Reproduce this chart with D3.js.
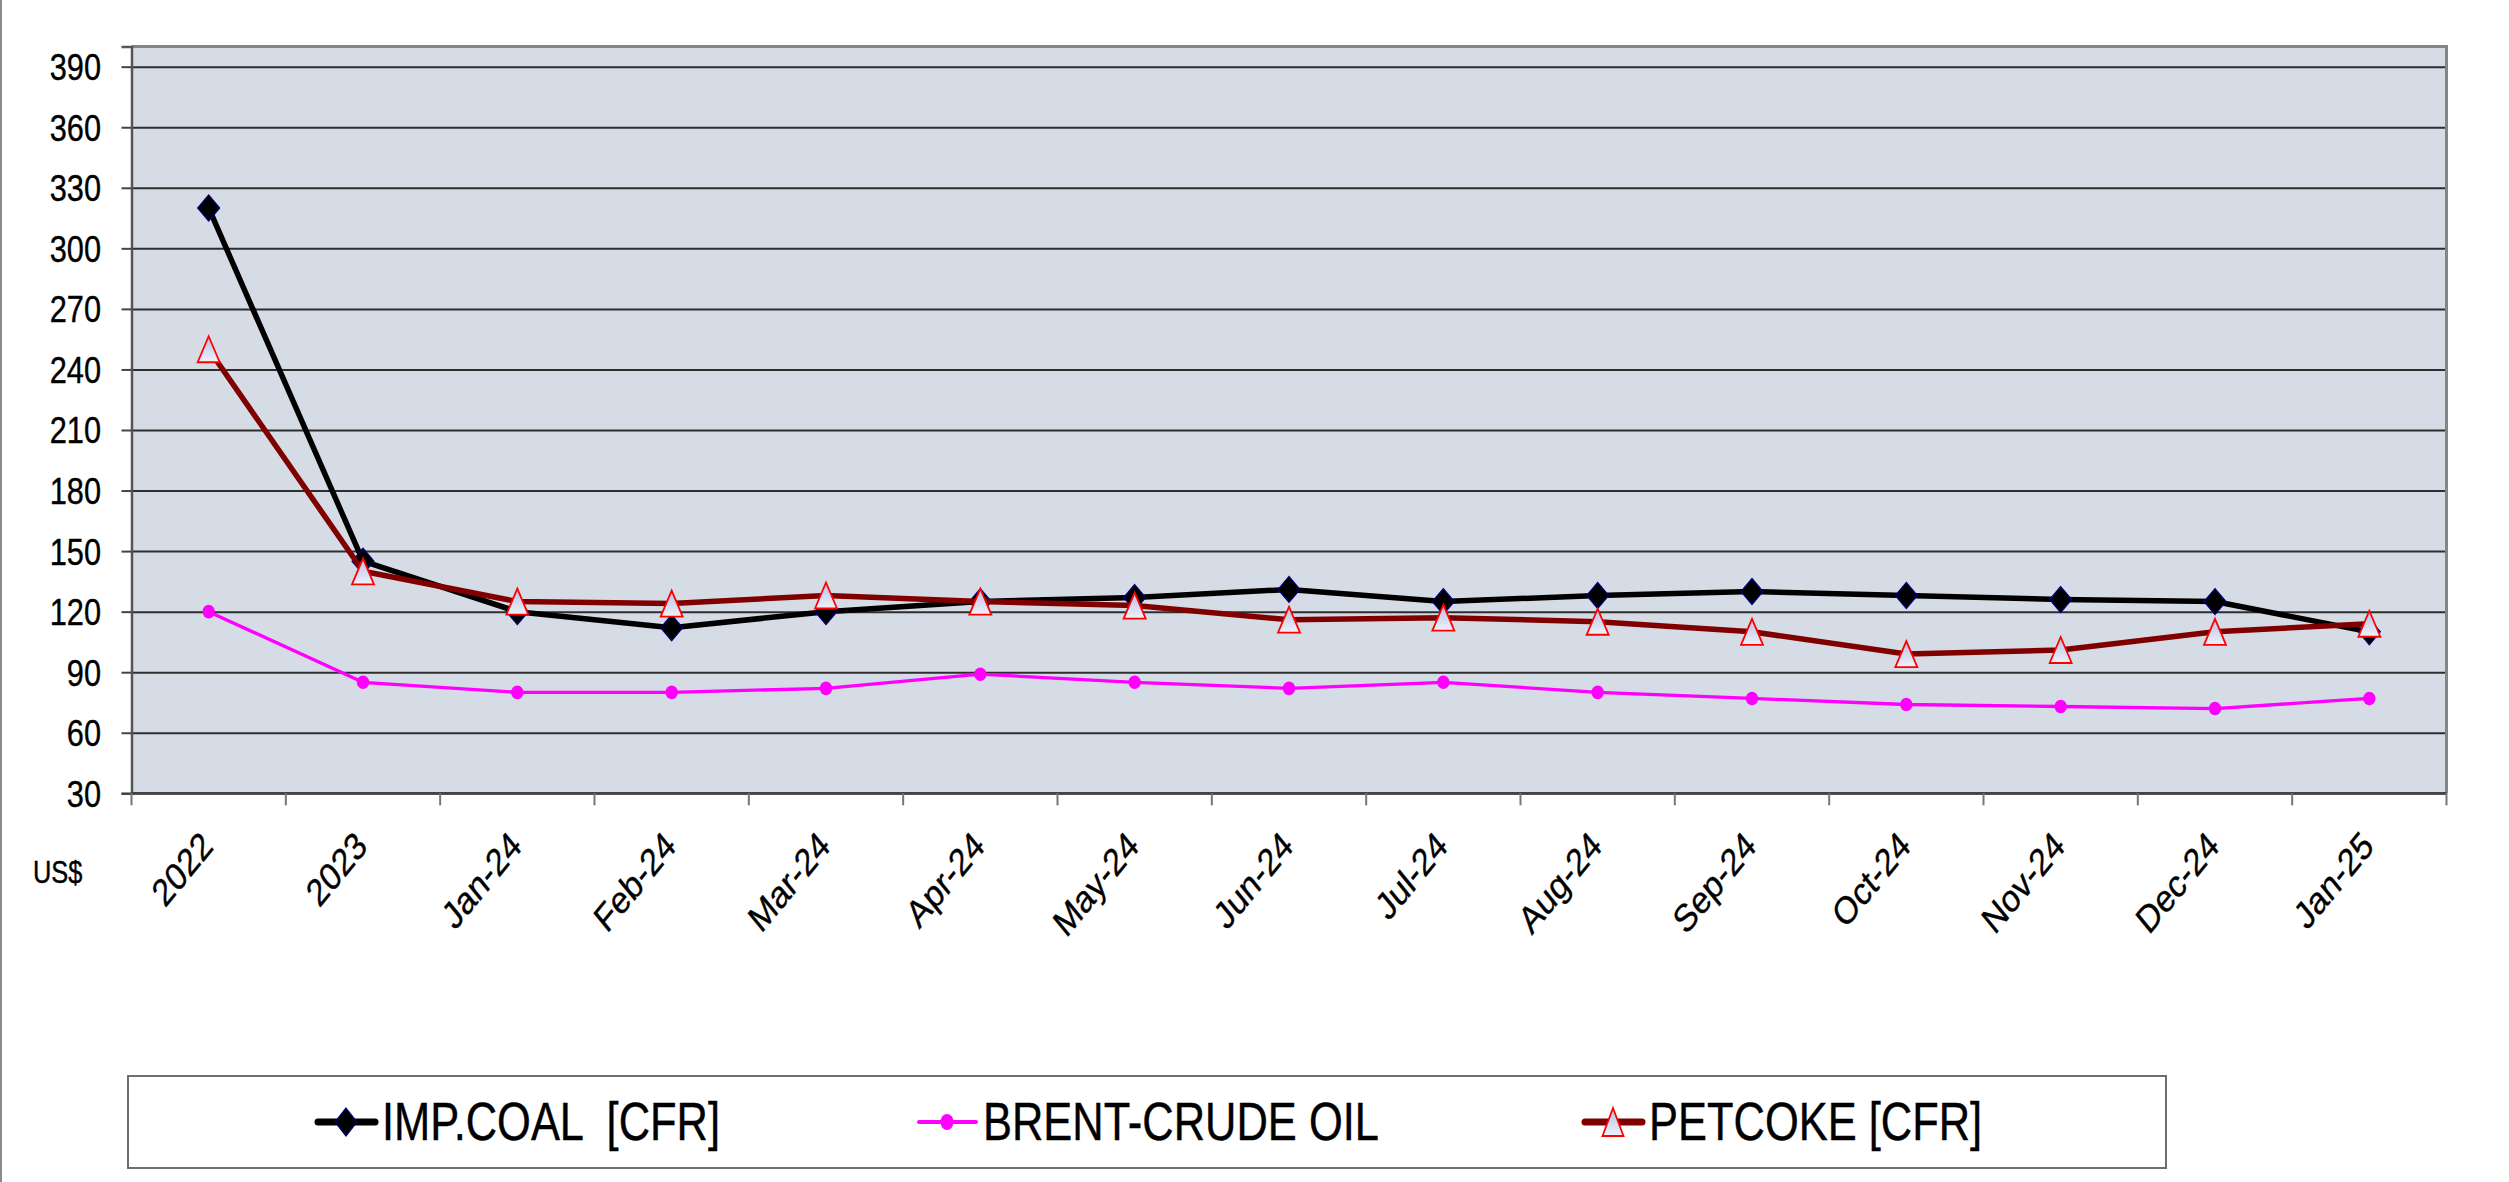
<!DOCTYPE html>
<html>
<head>
<meta charset="utf-8">
<script src="https://cdn.jsdelivr.net/npm/d3@7"></script>
<style>
    body { margin: 0; background: #ffffff; }
    text { font-family: "Liberation Sans", Arial, sans-serif; fill: #000000; stroke: #000000; stroke-width: 0.4px; }
</style>
</head>
<body>
<svg id="svgChart" width="2509" height="1182"></svg>
<script>

// Categories on the x axis
var categories = ["2022", "2023", "Jan-24", "Feb-24", "Mar-24", "Apr-24", "May-24", "Jun-24",
    "Jul-24", "Aug-24", "Sep-24", "Oct-24", "Nov-24", "Dec-24", "Jan-25"];

// Series values (US$)
var coalValues = [320, 145, 120, 112, 120, 125, 127, 131, 125, 128, 130, 128, 126, 125, 110];
var brentValues = [120, 85, 80, 80, 82, 89, 85, 82, 85, 80, 77, 74, 73, 72, 77];
var petcokeValues = [250, 140, 125, 124, 128, 125, 123, 116, 117, 115, 110, 99, 101, 110, 114];

// Y axis ticks
var yTicks = [30, 60, 90, 120, 150, 180, 210, 240, 270, 300, 330, 360, 390];

var seriesNames = ["IMP.COAL  [CFR]", "BRENT-CRUDE OIL", "PETCOKE [CFR]"];

// the reference is squeezed horizontally, so all text is squeezed too
var squeeze = 0.82;

var svg = d3.select("#svgChart");

var plot = { left: 131.5, top: 46.5, right: 2446.5, bottom: 793.3 };

var xScale = d3.scaleBand()
    .domain(categories)
    .range([plot.left, plot.right]);

var yScale = d3.scaleLinear()
    .domain([30, 400])
    .range([plot.bottom, plot.top]);

// Outer left edge of the chart area
svg.append("line")
    .attr("x1", 1).attr("x2", 1)
    .attr("y1", 0).attr("y2", 1182)
    .attr("stroke", "#8c8c8c")
    .attr("stroke-width", 2);

// Plot background
svg.append("rect")
    .attr("x", plot.left)
    .attr("y", plot.top)
    .attr("width", plot.right - plot.left)
    .attr("height", plot.bottom - plot.top)
    .attr("fill", "#d5dce6");

// Gridlines
svg.append("g")
    .attr("class", "grid")
    .attr("transform", `translate(${plot.left}, 0)`)
    .call(d3.axisRight(yScale)
        .tickValues(yTicks)
        .tickSize(plot.right - plot.left)
        .tickFormat("")
    )
    .call(g => g.select(".domain").remove())
    .call(g => g.selectAll("line").attr("stroke", "#2e2e2e").attr("stroke-width", 2));

// Plot border (top and right)
svg.append("path")
    .attr("d", `M${plot.left},${plot.top}H${plot.right}V${plot.bottom}`)
    .attr("fill", "none")
    .attr("stroke", "#858585")
    .attr("stroke-width", 3);

// Y axis
var yAxis = svg.append("g")
    .attr("transform", `translate(${plot.left}, 0)`)
    .call(d3.axisLeft(yScale)
        .tickValues(yTicks)
        .tickSize(10)
        .tickFormat("")
    );
yAxis.select(".domain").attr("stroke", "#555555").attr("stroke-width", 2.5);
yAxis.selectAll("line").attr("stroke", "#444444").attr("stroke-width", 2);

svg.append("g")
    .selectAll("text")
    .data(yTicks)
    .enter()
    .append("text")
        .attr("transform", d => `translate(101, ${yScale(d) + 13.5}) scale(${squeeze}, 1)`)
        .attr("text-anchor", "end")
        .attr("font-size", 37.5)
        .text(d => d);

// X axis: ticks at category boundaries
var boundaries = categories.map(c => xScale(c)).concat([plot.right]);
svg.append("line")
    .attr("x1", plot.left).attr("x2", plot.right)
    .attr("y1", plot.bottom).attr("y2", plot.bottom)
    .attr("stroke", "#444444")
    .attr("stroke-width", 2.5);
svg.append("g")
    .selectAll("line")
    .data(boundaries)
    .enter()
    .append("line")
        .attr("x1", d => d).attr("x2", d => d)
        .attr("y1", plot.bottom).attr("y2", plot.bottom + 12)
        .attr("stroke", "#777777")
        .attr("stroke-width", 2);

svg.append("g")
    .selectAll("text")
    .data(categories)
    .enter()
    .append("text")
        .attr("transform", d => `translate(${xScale(d) + xScale.bandwidth() / 2 + 6}, 848) scale(${squeeze}, 1) rotate(-45)`)
        .attr("text-anchor", "end")
        .attr("font-size", 38.5)
        .text(d => d);

svg.append("text")
    .attr("transform", `translate(33, 883) scale(${squeeze}, 1)`)
    .attr("font-size", 31)
    .text("US$");

// Marker gradient for the petcoke triangles
var gradient = svg.append("defs")
    .append("linearGradient")
    .attr("id", "triangleFill")
    .attr("x1", "0%").attr("y1", "0%")
    .attr("x2", "0%").attr("y2", "100%");
gradient.append("stop").attr("offset", "0%").attr("stop-color", "#b3bfe6");
gradient.append("stop").attr("offset", "100%").attr("stop-color", "#f0f2fa");

function diamondPath(w, h) {
    return `M0,${-h / 2}L${w / 2},0L0,${h / 2}L${-w / 2},0Z`;
}

function trianglePath(w, h) {
    return `M0,${-h / 2}L${w / 2},${h / 2}L${-w / 2},${h / 2}Z`;
}

function cx(i) {
    return xScale(categories[i]) + xScale.bandwidth() / 2;
}

var line = d3.line()
    .x((d, i) => cx(i))
    .y(d => yScale(d));

// IMP.COAL
svg.append("path")
    .attr("d", line(coalValues))
    .attr("fill", "none")
    .attr("stroke", "#000000")
    .attr("stroke-width", 5.5)
    .attr("stroke-linejoin", "round");
svg.append("g")
    .selectAll("path")
    .data(coalValues)
    .enter()
    .append("path")
        .attr("d", diamondPath(22, 26))
        .attr("transform", (d, i) => `translate(${cx(i)}, ${yScale(d)})`)
        .attr("fill", "#000000")
        .attr("stroke", "#000080")
        .attr("stroke-width", 1.2);

// BRENT-CRUDE OIL
svg.append("path")
    .attr("d", line(brentValues))
    .attr("fill", "none")
    .attr("stroke", "#ff00ff")
    .attr("stroke-width", 3.3)
    .attr("stroke-linejoin", "round");
svg.append("g")
    .selectAll("ellipse")
    .data(brentValues)
    .enter()
    .append("ellipse")
        .attr("cx", (d, i) => cx(i))
        .attr("cy", d => yScale(d))
        .attr("rx", 6.2)
        .attr("ry", 6.8)
        .attr("fill", "#ff00ff");

// PETCOKE
svg.append("path")
    .attr("d", line(petcokeValues))
    .attr("fill", "none")
    .attr("stroke", "#800000")
    .attr("stroke-width", 5.5)
    .attr("stroke-linejoin", "round");
svg.append("g")
    .selectAll("path")
    .data(petcokeValues)
    .enter()
    .append("path")
        .attr("d", trianglePath(22, 26))
        .attr("transform", (d, i) => `translate(${cx(i)}, ${yScale(d)})`)
        .attr("fill", "url(#triangleFill)")
        .attr("stroke", "#ff0000")
        .attr("stroke-width", 1.8);

// Legend
var legend = svg.append("g").attr("class", "legend");

legend.append("rect")
    .attr("x", 128)
    .attr("y", 1076)
    .attr("width", 2166 - 128)
    .attr("height", 1168 - 1076)
    .attr("fill", "#ffffff")
    .attr("stroke", "#6e6e6e")
    .attr("stroke-width", 2);

var legendItems = [
    { name: seriesNames[0], x: 318, color: "#000000", width: 7, marker: "diamond" },
    { name: seriesNames[1], x: 919, color: "#ff00ff", width: 4, marker: "circle" },
    { name: seriesNames[2], x: 1585, color: "#800000", width: 7, marker: "triangle" }
];

var legendY = 1122;

legendItems.forEach(function(item) {
    legend.append("line")
        .attr("x1", item.x).attr("x2", item.x + 57)
        .attr("y1", legendY).attr("y2", legendY)
        .attr("stroke", item.color)
        .attr("stroke-width", item.width)
        .attr("stroke-linecap", "round");

    var mx = item.x + 28;
    if (item.marker == "diamond") {
        legend.append("path")
            .attr("d", diamondPath(22, 28))
            .attr("transform", `translate(${mx}, ${legendY})`)
            .attr("fill", "#000000")
            .attr("stroke", "#000080")
            .attr("stroke-width", 1.2);
    } else if (item.marker == "circle") {
        legend.append("ellipse")
            .attr("cx", mx).attr("cy", legendY)
            .attr("rx", 6.5).attr("ry", 8)
            .attr("fill", "#ff00ff");
    } else {
        legend.append("path")
            .attr("d", trianglePath(21, 28))
            .attr("transform", `translate(${mx}, ${legendY})`)
            .attr("fill", "url(#triangleFill)")
            .attr("stroke", "#ff0000")
            .attr("stroke-width", 1.8);
    }

    legend.append("text")
        .attr("transform", `translate(${item.x + 64}, 1140) scale(${squeeze}, 1)`)
        .attr("font-size", 53)
        .style("white-space", "pre")
        .text(item.name);
});

</script>
</body>
</html>
